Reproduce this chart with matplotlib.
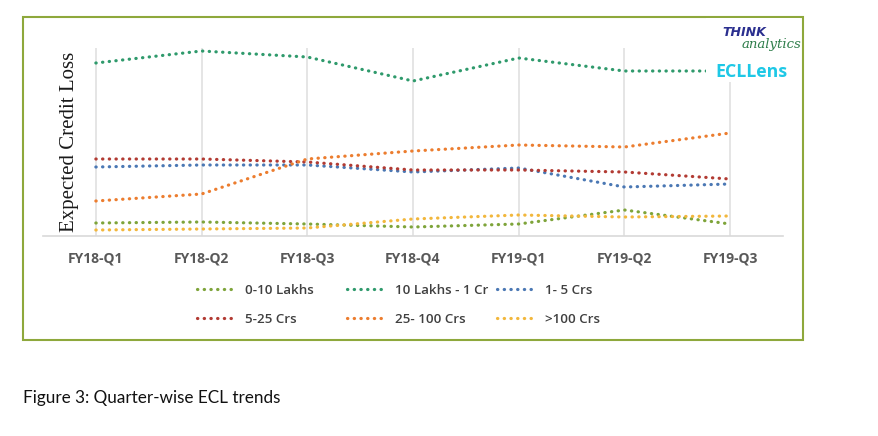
import matplotlib.pyplot as plt
from matplotlib.patches import Rectangle

# quarters on the x axis
quarters = ['FY18-Q1', 'FY18-Q2', 'FY18-Q3', 'FY18-Q4', 'FY19-Q1', 'FY19-Q2', 'FY19-Q3']

# expected credit loss per exposure bucket (no units shown on the chart)
ecl_0_10_lakhs = [13, 14, 12, 9, 12, 26, 12]
ecl_10_lakhs_1_cr = [173, 185, 179, 155, 178, 165, 165]
ecl_1_5_crs = [69, 71, 71, 64, 68, 49, 52]
ecl_5_25_crs = [77, 77, 74, 66, 66, 64, 57]
ecl_25_100_crs = [35, 42, 77, 85, 91, 89, 103]
ecl_over_100_crs = [6, 7, 8, 17, 21, 19, 20]

labels = ['0-10 Lakhs', '10 Lakhs - 1 Cr', '1- 5 Crs', '5-25 Crs', '25- 100 Crs', '>100 Crs']
series = [ecl_0_10_lakhs, ecl_10_lakhs_1_cr, ecl_1_5_crs, ecl_5_25_crs, ecl_25_100_crs, ecl_over_100_crs]
colors = ['#7ea43a', '#2f9a6c', '#4b78b4', '#b23b33', '#ec7d2f', '#f2b73c']

W, H = 879, 436
fig = plt.figure(figsize=(W / 100, H / 100), dpi=100)
fig.patch.set_facecolor('white')

# olive frame round the chart
fig.patches.append(Rectangle((23 / W, 1 - 340 / H), (803 - 23) / W, (340 - 17) / H,
                             transform=fig.transFigure, fill=False,
                             edgecolor='#8ea83c', lw=1.5, zorder=0))

ax = fig.add_axes([43 / W, 1 - 236 / H, 740 / W, (236 - 48) / H])
x = list(range(len(quarters)))
lines = []
for vals, lab, col in zip(series, labels, colors):
    ln, = ax.plot(x, vals, color=col, lw=2.3, linestyle=(0, (0.1, 2.0)),
                  dash_capstyle='round', label=lab, zorder=3)
    lines.append(ln)

ax.set_xlim(-0.5, 6.5)
ax.set_ylim(0, 188)
ax.set_xticks(x)
ax.set_xticklabels(quarters, fontfamily='Open Sans', fontweight='bold',
                   fontsize=10, color='#595959')
ax.set_yticks([])
ax.tick_params(axis='x', length=0, pad=11)
for s in ['top', 'right', 'left']:
    ax.spines[s].set_visible(False)
ax.spines['bottom'].set_color('#d9d9d9')
ax.spines['bottom'].set_linewidth(1.2)
ax.xaxis.grid(True, color='#e0e0e0', lw=1.2)
ax.set_axisbelow(True)

fig.text(70 / W, 1 - 142 / H, 'Expected Credit Loss', rotation=90,
         ha='center', va='center', fontfamily='Liberation Serif', fontsize=15,
         color='#1a1a1a')

# legend: three fixed-width columns of two entries each
col_x = [185, 335, 485]
for i, cx in enumerate(col_x):
    leg = fig.legend([lines[i], lines[i + 3]], [labels[i], labels[i + 3]],
                     loc='upper left', bbox_to_anchor=(cx / W, 1 - 272 / H),
                     frameon=False, handlelength=2.8, handletextpad=0.8,
                     labelspacing=1.2,
                     prop={'family': 'Open Sans', 'size': 9.6, 'weight': 'semibold'})
    for t in leg.get_texts():
        t.set_color('#404040')

# logo area (covers the line end like the pasted image)
fig.patches.append(Rectangle((706 / W, 1 - 82 / H), 94 / W, 64 / H,
                             transform=fig.transFigure, facecolor='white',
                             edgecolor='none', zorder=5))
fig.text(766 / W, 1 - 32 / H, 'THINK', ha='right', va='center', fontsize=9,
         fontweight='bold', fontstyle='italic', color='#2b2f8f', zorder=6)
fig.text(742 / W, 1 - 44 / H, 'analytics', ha='left', va='center', fontsize=9.5,
         fontfamily='DejaVu Serif', fontstyle='italic', color='#2e7d4a', zorder=6)
fig.text(715 / W, 1 - 72 / H, 'ECLLens', ha='left', va='center', fontsize=12.8,
         fontweight='bold', fontfamily='Open Sans', color='#1ec8e6', zorder=6)

fig.text(23 / W, 1 - 398 / H, 'Figure 3: Quarter-wise ECL trends', ha='left',
         va='center', fontfamily='Lato', fontsize=12.3, color='#111111')

fig.savefig('out.png', dpi=100, facecolor='white')
